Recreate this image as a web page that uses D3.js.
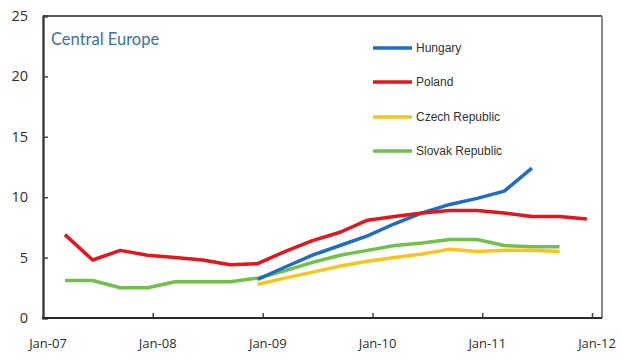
<!DOCTYPE html>
<html>
<head>
<meta charset="utf-8">
<script src="https://cdn.jsdelivr.net/npm/d3@7"></script>
<style>
  html, body { margin: 0; padding: 0; background: #fff; }
  svg { display: block; }
</style>
</head>
<body>
<svg id="chart" width="622" height="358"></svg>
<script>
// Quarterly observations, Mar-2007 .. Dec-2011
const quarters = ["2007-03","2007-06","2007-09","2007-12","2008-03","2008-06","2008-09","2008-12",
                  "2009-03","2009-06","2009-09","2009-12","2010-03","2010-06","2010-09","2010-12",
                  "2011-03","2011-06","2011-09","2011-12"];

const hungary = [null,null,null,null,null,null,null,3.2,4.2,5.2,6.0,6.8,7.8,8.7,9.4,9.9,10.5,12.4,null,null];
const poland  = [6.9,4.8,5.6,5.2,5.0,4.8,4.4,4.5,5.5,6.4,7.1,8.1,8.4,8.7,8.9,8.9,8.7,8.4,8.4,8.2];
const czech   = [null,null,null,null,null,null,null,2.8,3.3,3.8,4.3,4.7,5.0,5.3,5.7,5.5,5.6,5.6,5.5,null];
const slovak  = [3.1,3.1,2.5,2.5,3.0,3.0,3.0,3.3,3.9,4.6,5.2,5.6,6.0,6.2,6.5,6.5,6.0,5.9,5.9,null];

const seriesNames  = ["Hungary","Poland","Czech Republic","Slovak Republic"];
const seriesColors = ["#1f6dc0","#e3161d","#fbc31c","#70c04a"];
const yTicks = [0,5,10,15,20,25];
const xTickYears = ["2007","2008","2009","2010","2011","2012"];
const chartTitle = "Central Europe";

const svg = d3.select("#chart");
const margin = {left: 43, top: 16, right: 20, bottom: 40};

const parseQ = d3.timeParse("%Y-%m");
// place each quarter mid-month
const dates = quarters.map(q => { const d = parseQ(q); d.setDate(15); return d; });

const x = d3.scaleTime()
  .domain([new Date(2007,0,1), new Date(2012,0,1)])
  .range([margin.left, 592]);
const y = d3.scaleLinear().domain([0,25]).range([318, margin.top]);

const right = 602;

// frame: top and right in grey
svg.append("line").attr("x1", margin.left).attr("x2", right).attr("y1", y(25)).attr("y2", y(25))
  .attr("stroke", "#5e5e5e").attr("stroke-width", 2);
svg.append("line").attr("x1", right).attr("x2", right).attr("y1", y(25)).attr("y2", y(0))
  .attr("stroke", "#8a8a8a").attr("stroke-width", 2);

// y axis
const yAxis = d3.axisRight(y).tickValues(yTicks).tickSize(5).tickFormat("");
const gy = svg.append("g").attr("transform", `translate(${margin.left},0)`).call(yAxis);
gy.select(".domain").attr("stroke", "#2b2b2b").attr("stroke-width", 2.2);
gy.selectAll(".tick line").attr("stroke", "#444").attr("stroke-width", 1.5);

svg.append("g").selectAll("text").data(yTicks).join("text")
  .attr("x", 28).attr("y", d => y(d) + 5)
  .attr("text-anchor", "end")
  .attr("font-family", "Open Sans, sans-serif")
  .attr("font-size", 14.5)
  .attr("fill", "#2e2e2e")
  .text(d => d);

// x axis
const xTickDates = xTickYears.map(yy => new Date(+yy, 0, 1));
const xAxis = d3.axisTop(x).tickValues(xTickDates).tickSize(5).tickFormat("");
const gx = svg.append("g").attr("transform", `translate(0,${y(0)})`).call(xAxis);
gx.select(".domain").remove();
gx.selectAll(".tick line").attr("stroke", "#444").attr("stroke-width", 1.5);
svg.append("line").attr("x1", margin.left - 1).attr("x2", right).attr("y1", y(0)).attr("y2", y(0))
  .attr("stroke", "#2b2b2b").attr("stroke-width", 2.2);

const fmt = d3.timeFormat("%b-%y");
svg.append("g").selectAll("text").data(xTickDates).join("text")
  .attr("x", d => x(d) + 5).attr("y", 348)
  .attr("text-anchor", "middle")
  .attr("font-family", "Open Sans, sans-serif")
  .attr("font-size", 13)
  .attr("fill", "#2e2e2e")
  .text(d => fmt(d));

// title
svg.append("text").attr("x", 51).attr("y", 45)
  .attr("font-family", "Lato, sans-serif")
  .attr("font-size", 16.5)
  .attr("fill", "#3d6fa6")
  .text(chartTitle);

// lines
const allSeries = [hungary, poland, czech, slovak];
const line = d3.line()
  .defined(d => d.v != null)
  .x(d => x(d.date))
  .y(d => y(d.v));

// drawn order: slovak, czech, hungary, poland on top
const order = [3, 2, 0, 1];
order.forEach(i => {
  const pts = allSeries[i].map((v, k) => ({date: dates[k], v}));
  svg.append("path")
    .datum(pts)
    .attr("fill", "none")
    .attr("stroke", seriesColors[i])
    .attr("stroke-width", 3.5)
    .attr("stroke-linejoin", "round")
    .attr("stroke-linecap", "butt")
    .attr("d", line);
});

// legend
const legendY = [48, 82, 117, 151];
const lg = svg.append("g");
seriesNames.forEach((name, i) => {
  lg.append("line")
    .attr("x1", 373).attr("x2", 412)
    .attr("y1", legendY[i]).attr("y2", legendY[i])
    .attr("stroke", seriesColors[i]).attr("stroke-width", 3.5);
  lg.append("text")
    .attr("x", 416).attr("y", legendY[i] + 4)
    .attr("font-family", "Liberation Sans Narrow, Arial Narrow, sans-serif")
    .attr("font-size", 12)
    .attr("fill", "#333")
    .text(name);
});
</script>
</body>
</html>
